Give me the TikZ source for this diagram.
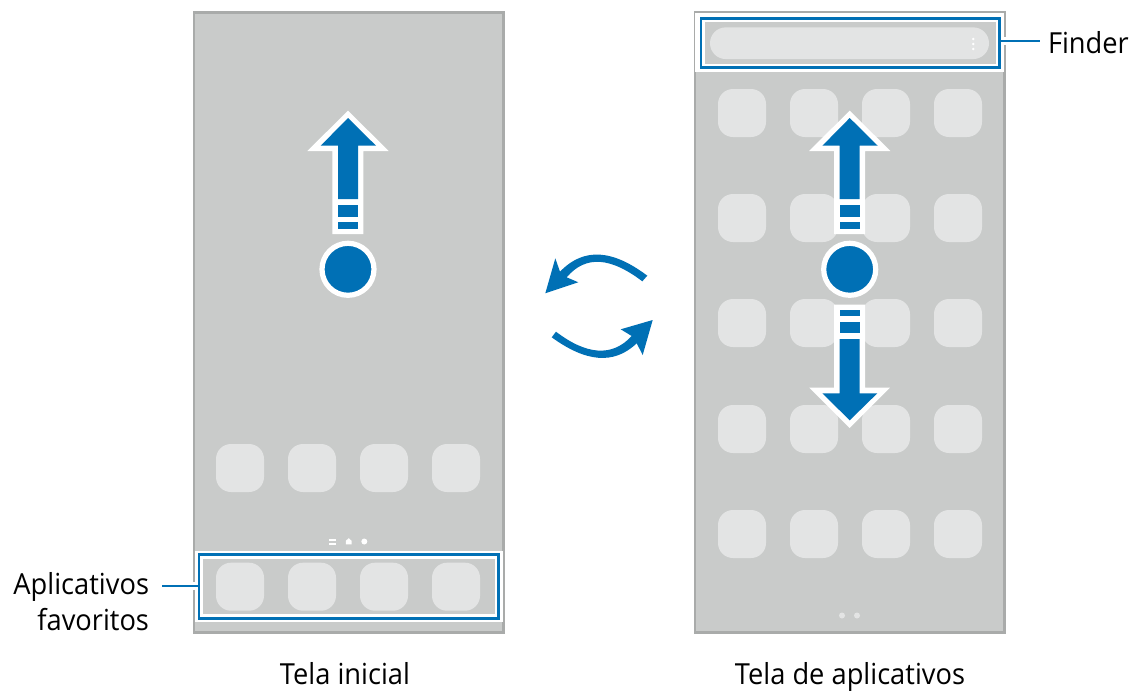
\documentclass[tikz,border=0pt]{standalone}
\usepackage{fontspec}
\setmainfont[FakeStretch=0.94]{Open Sans}
\definecolor{scr}{HTML}{C9CBCA}
\definecolor{edgeg}{HTML}{A9ABAA}
\definecolor{ico}{HTML}{E3E4E4}
\definecolor{sblue}{HTML}{0070B5}
\tikzset{
 screen/.style={draw=edgeg,line width=2.2pt,fill=scr,inner sep=0pt,outer sep=0pt,minimum width=309.5pt,minimum height=620pt},
 appicon/.style={fill=ico,rounded corners=15pt,inner sep=0pt,outer sep=0pt,minimum size=48pt},
 hilite/.style={draw=sblue,line width=2.9pt,inner sep=0pt,outer sep=0pt},
 leader/.style={draw=sblue,line width=2.7pt},
 lbl/.style={inner sep=0pt,outer sep=0pt,font=\fontsize{29}{36}\selectfont,text=black},
 wfill/.style={fill=white},
 bfill/.style={fill=sblue},
 touch/.style={circle,fill=sblue,draw=white,line width=5.2pt,minimum size=52pt,inner sep=0pt,outer sep=0pt},
 wdot/.style={circle,fill=white,inner sep=0pt,outer sep=0pt},
}
\newcommand{\uparrowglyph}[1]{%
 \begin{scope}[shift={(#1,0)}]
  \fill[wfill] (348,110.7)--(388.7,151)--(363.3,151)--(363.3,234)--(332.3,234)--(332.3,151)--(307.3,151)--cycle;
  \fill[bfill] (348,118)--(376,145.7)--(358,145.7)--(358,199)--(338,199)--(338,145.7)--(320.7,145.7)--cycle;
  \fill[bfill] (338,204.7) rectangle (358,216.7);
  \fill[bfill] (338,222.3) rectangle (358,229);
 \end{scope}}
\begin{document}
\begin{tikzpicture}[x=1pt,y=-1pt]
\useasboundingbox (0,0) rectangle (1134,691);
\fill[white] (0,0) rectangle (1134,691);
% screens
\node[screen] (home) at (348.7,322.5) {};
\node[screen] (apps) at (849.7,322.5) {};
% left icons
\foreach \n/\x in {a/240,b/312,c/384,d/456}{\node[appicon] (h\n) at (\x,468) {};}
% page markers left
\fill[white] (329,538.6) rectangle (336,540.6);
\fill[white] (329,542.6) rectangle (336,544.6);
\fill[white] (345.8,544.4) -- (345.8,540.8) -- (348.7,538.2) -- (351.6,540.8) -- (351.6,544.4) -- cycle;
\node[wdot,minimum size=6pt] (pg3) at (364.3,541.5) {};
% left dock
\fill[white] (194.5,550.8) rectangle (502.9,622);
\node[inner sep=0pt,outer sep=0pt,fill=scr,minimum width=292.6pt,minimum height=55.3pt] (dock) at (349,586.3) {};
\node[hilite,minimum width=299.5pt,minimum height=63.2pt] (dockb) at (348.7,586.5) {};
\foreach \n/\x in {a/240,b/312,c/384,d/456}{\node[appicon] (f\n) at (\x,586.7) {};}
% right icons
\foreach \r/\y in {1/113,2/218,3/323,4/429,5/534}{
 \foreach \n/\x in {a/742,b/814,c/886,d/958}{\node[appicon] (g\r\n) at (\x,\y) {};}}
\node[wdot,fill=ico,minimum size=6pt] (pga) at (842,615.5) {};
\node[wdot,fill=ico,minimum size=6pt] (pgb) at (857,615.5) {};
% finder bar
\fill[white] (695.2,13) rectangle (1003.8,71.7);
\node[inner sep=0pt,outer sep=0pt,fill=scr,minimum width=291pt,minimum height=41.5pt] (bar) at (850.3,43) {};
\node[hilite,minimum width=298.7pt,minimum height=48.7pt] (barb) at (850.3,42.7) {};
\node[inner sep=0pt,fill=ico,rounded corners=15.8pt,minimum width=279pt,minimum height=31.7pt] (pill) at (849.5,43.2) {};
\foreach \n/\y in {a/39,b/44,c/49}{\node[wdot,minimum size=2.8pt] (k\n) at (973.3,\y) {};}
% arrows
\uparrowglyph{0}
\node[touch] (t1) at (348,269.3) {};
\uparrowglyph{501.7}
\node[touch] (t2) at (849.7,269.3) {};
\fill[wfill] (849.7,428)--(890,387.7)--(865,387.7)--(865,304.7)--(834,304.7)--(834,387.7)--(809.3,387.7)--cycle;
\fill[bfill] (849.7,420.3)--(877.3,393.3)--(859.7,393.3)--(859.7,339)--(839.7,339)--(839.7,393.3)--(822.3,393.3)--cycle;
\fill[bfill] (839.7,321.7) rectangle (859.7,333.3);
\fill[bfill] (839.7,310) rectangle (859.7,316.3);
% swap arrows
\fill[bfill] (647.3,275.7) .. controls (613.3,250.1) and (584.2,246.5) .. (560,271.7) -- (555.3,258.3) -- (545.3,293.3) -- (578.3,282.3) -- (566.7,277.3) .. controls (585.9,254.6) and (611.1,257.6) .. (642.3,281.3) -- cycle;
\fill[bfill] (551.7,337.3) .. controls (585.1,361.6) and (613.4,365.5) .. (636.7,343.3) -- (642.7,355) -- (652.7,320) -- (620.7,329.3) -- (631.7,336) .. controls (612,357.5) and (586.1,354.7) .. (556,331.7) -- cycle;
% labels
\node[lbl,anchor=east,align=right] (lfav) at (149,602) {Aplicativos\\favoritos};
\node[lbl,anchor=base west] (lfind) at (1048,53.5) {Finder};
\node[lbl,anchor=base] (lhome) at (345,684.5) {Tela inicial};
\node[lbl,anchor=base] (lapps) at (850,684.5) {Tela de aplicativos};
% leaders
\coordinate (lfs) at (162,586);
\coordinate (lfe) at (197.5,586);
\coordinate (lbs) at (1001,41);
\coordinate (lbe) at (1040,41);
\draw[white,line width=8pt] (191.5,586) -- (lfe);
\draw[leader] (lfs) -- (lfe);
\draw[white,line width=8pt] (lbs) -- (1007,41);
\draw[leader] (lbs) -- (lbe);
\end{tikzpicture}
\end{document}
